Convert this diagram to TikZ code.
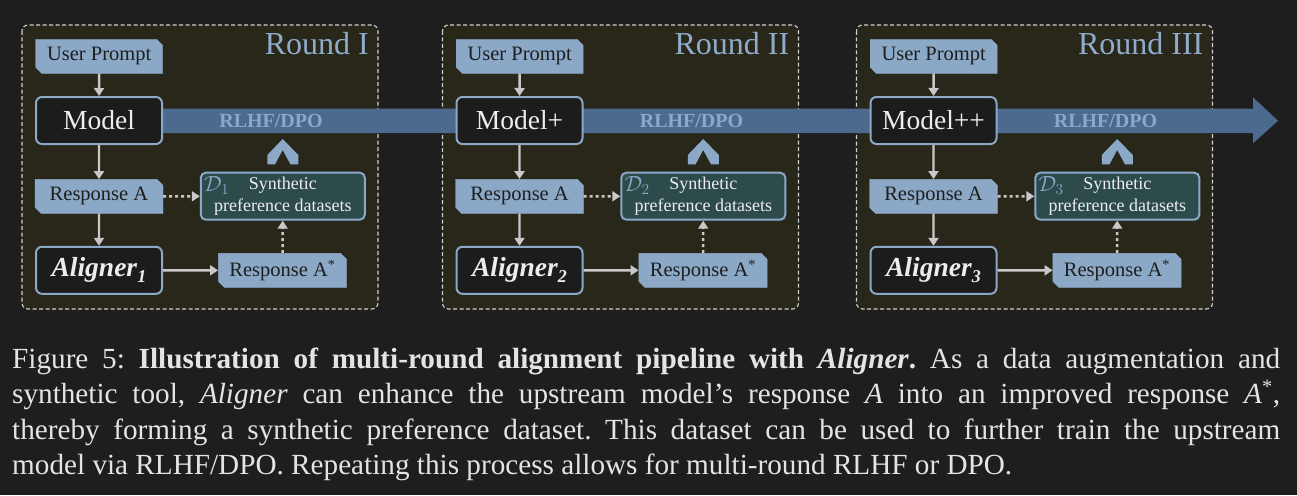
\RequirePackage{fix-cm}
\documentclass[tikz,border=0pt]{standalone}
\usepackage{fontspec}
\setmainfont{Liberation Serif}
\usetikzlibrary{shapes.misc,arrows.meta}
\definecolor{bgc}{HTML}{1E1E1E}
\definecolor{panelfill}{HTML}{29261A}
\definecolor{lblue}{HTML}{8BA9C7}
\definecolor{darkbox}{HTML}{1C1C1C}
\definecolor{synthfill}{HTML}{2D4B4B}
\definecolor{barblue}{HTML}{4C6A8E}
\definecolor{arrowgray}{HTML}{C8C8C8}
\definecolor{dashgray}{HTML}{D0D0D0}
\definecolor{roundblue}{HTML}{8FADCB}
\definecolor{darktext}{HTML}{1E1E1E}
\definecolor{lighttext}{HTML}{EDEDED}
\definecolor{captext}{HTML}{E4E4E4}
\tikzset{
  panelbox/.style={draw=dashgray, line width=1.1pt, dash pattern=on 4pt off 2.5pt, fill=panelfill, rounded corners=6pt},
  cutbox/.style={chamfered rectangle, chamfered rectangle corners={north east,south west}, chamfered rectangle xsep=3pt, chamfered rectangle ysep=3pt, fill=lblue, draw=lblue, inner sep=0pt, minimum width=127pt, minimum height=34pt, text=darktext, font=\fontsize{20.5}{22}\selectfont},
  modelbox/.style={rounded corners=6pt, draw=lblue, line width=2pt, fill=darkbox, minimum width=126pt, minimum height=47pt, inner sep=0pt, text=lighttext, font=\fontsize{27.5}{30}\selectfont},
  synthbox/.style={rounded corners=5pt, draw=lblue, line width=2pt, fill=synthfill, minimum width=164pt, minimum height=47pt, inner sep=0pt, align=center, text=lighttext, font=\fontsize{18}{21.7}\selectfont},
  arr/.style={draw=arrowgray, line width=2.4pt, -{Triangle[length=8pt,width=10pt]}},
  dotarr/.style={arr, dash pattern=on 3pt off 3pt},
  roundlab/.style={anchor=base east, text=roundblue, inner sep=0pt, font=\fontsize{32}{32}\selectfont},
  barlab/.style={text=lblue, inner sep=0pt, font=\bfseries\fontsize{20}{20}\selectfont},
  dlab/.style={anchor=base west, text=lblue, inner sep=0pt, font=\fontsize{22}{22}\selectfont}
}
\begin{document}
\begin{tikzpicture}[x=1pt,y=-1pt]
\fill[bgc] (0,0) rectangle (1297,495);
\useasboundingbox (0,0) rectangle (1297,495);
% panels
\foreach \o/\r in {0/I, 420.5/II, 834.5/III} {
  \draw[panelbox] (22+\o,25) rectangle (378+\o,309);
  \node[roundlab] at (369+\o,55) {Round \r};
}
% RLHF/DPO bar with arrow head
\fill[barblue] (99,108.5) -- (1253,108.5) -- (1253,97.3) -- (1278,120.8) -- (1253,143.3) -- (1253,133) -- (99,133) -- cycle;
% rounds
\foreach \o/\i/\m in {0/1/Model, 420.5/2/Model+, 834.5/3/Model++} {
  \node[barlab] (rl\i) at (271+\o,121) {RLHF/DPO};
  \fill[lblue] (267.3+\o,164.3) -- (267.3+\o,155) -- (282.7+\o,139) -- (298.3+\o,155) -- (298.3+\o,164.3) -- (290.5+\o,164.3) -- (282.7+\o,150) -- (275+\o,164.3) -- cycle;
  \node[cutbox] (up\i) at (99.2+\o,56.3) {User Prompt};
  \node[modelbox] (model\i) at (99+\o,120.5) {\m};
  \node[cutbox, minimum width=128pt] (ra\i) at (99+\o,196.3) {Response A};
  \node[modelbox] (al\i) at (99+\o,270.3) {\textbf{\textit{Aligner}}\raisebox{-6pt}{\fontsize{18}{18}\selectfont\bfseries\itshape \i}};
  \node[synthbox] (syn\i) at (282.8+\o,196.2) {Synthetic\\preference datasets};
  \node[dlab] (d\i) at (204+\o,191.5) {$\mathcal{D}_{\i}$};
  \node[cutbox, minimum width=128.4pt] (ras\i) at (282.5+\o,270.3) {Response A\textsuperscript{*}};
  \draw[arr] (up\i) -- (model\i);
  \draw[arr] (model\i) -- (ra\i);
  \draw[arr] (ra\i) -- (al\i);
  \draw[arr] (al\i) -- (ras\i);
  \draw[dotarr] (ra\i) -- (syn\i.west |- ra\i);
  \draw[dotarr] (ras\i) -- (syn\i);
}
% caption
\node[anchor=north west, text width=1268pt, align=justify, inner sep=0pt, text=captext, font=\frenchspacing\fontsize{29.2}{35.2}\selectfont] (cap) at (12,348) {Figure 5: \textbf{Illustration of multi-round alignment pipeline with \textit{Aligner}.} As a data augmentation and\linebreak synthetic tool, \textit{Aligner} can enhance the upstream model's response \textit{A} into an improved response \textit{A}\textsuperscript{*},\linebreak thereby forming a synthetic preference dataset. This dataset can be used to further train the upstream\linebreak model via RLHF/DPO. Repeating this process allows for multi-round RLHF or DPO.};
\end{tikzpicture}
\end{document}
